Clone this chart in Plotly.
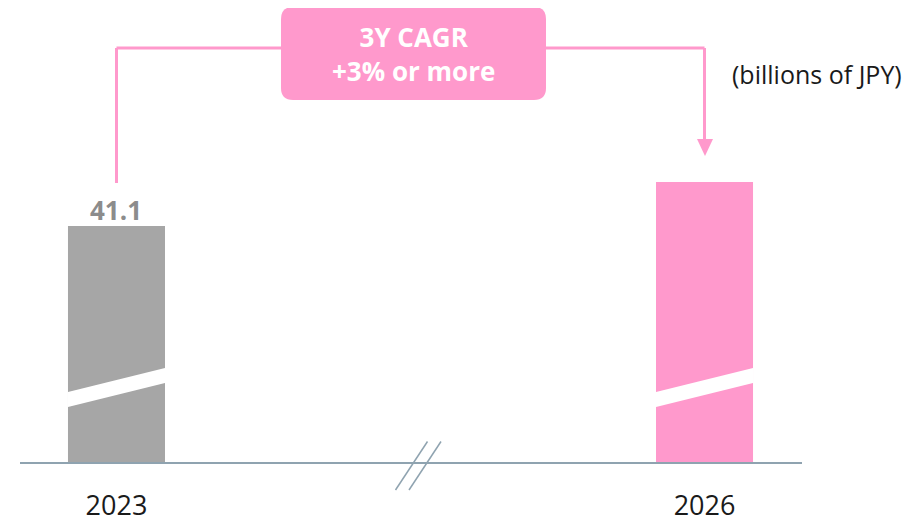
import plotly.graph_objects as go

# Data
years = ["2023", "2026"]
values = [41.1, 44.9]          # 2026 bar is unlabeled; height
labels = ["41.1", ""]
bar_colors = ["#a6a6a6", "#ff99cc"]
cagr_text = "3Y CAGR<br>+3% or more"
unit_text = "(billions of JPY)"

PINK = "#ff99cc"
AXIS = "#8fa3b0"
FONT = "Open Sans"

# Plot area in page pixels (page body has an 8px margin)
OFF = 8
L, R, T, B = 20, 802, 8, 462
W, H = 920 - OFF, 520 - OFF


def px(x):
    return (x - L) / (R - L)


def py(y):
    return (B - y) / (B - T)


x_idx = list(range(len(years)))

fig = go.Figure(
    go.Bar(
        x=x_idx,
        y=values,
        width=0.165,
        marker=dict(color=bar_colors, line=dict(width=0)),
        hoverinfo="skip",
    )
)

shapes = []

# white diagonal "cut" across each bar (axis break)
for i in x_idx:
    x0, x1 = i - 0.0825, i + 0.0825
    shapes.append(dict(
        type="path", xref="x", yref="paper",
        path=f"M {x0} {py(392)} L {x1} {py(368)} L {x1} {py(383)} L {x0} {py(407)} Z",
        fillcolor="white", line=dict(width=0),
    ))

# break marks on the x axis
for dx in (0, 13.5):
    shapes.append(dict(
        type="line", xref="paper", yref="paper",
        x0=px(427.5 + dx), y0=py(441.5), x1=px(395.5 + dx), y1=py(490),
        line=dict(color=AXIS, width=1.5),
    ))

# connector from 2023 to 2026
shapes += [
    dict(type="line", xref="x", yref="paper", x0=0, x1=0, y0=py(183), y1=py(48),
         line=dict(color=PINK, width=3)),
    dict(type="line", xref="x", yref="paper", x0=0, x1=1, y0=py(48), y1=py(48),
         line=dict(color=PINK, width=3)),
    dict(type="line", xref="x", yref="paper", x0=1, x1=1, y0=py(48), y1=py(141),
         line=dict(color=PINK, width=3)),
    dict(type="path", xref="paper", yref="paper",
         path=f"M {px(697)} {py(139)} L {px(713)} {py(139)} L {px(705)} {py(156)} Z",
         fillcolor=PINK, line=dict(width=0)),
]

# rounded box
bx0, bx1, by0, by1, r = 281, 546, 7, 100, 12
pts = (
    f"M {px(bx0 + r)} {py(by0)} L {px(bx1 - r)} {py(by0)} "
    f"Q {px(bx1)} {py(by0)} {px(bx1)} {py(by0 + r)} "
    f"L {px(bx1)} {py(by1 - r)} Q {px(bx1)} {py(by1)} {px(bx1 - r)} {py(by1)} "
    f"L {px(bx0 + r)} {py(by1)} Q {px(bx0)} {py(by1)} {px(bx0)} {py(by1 - r)} "
    f"L {px(bx0)} {py(by0 + r)} Q {px(bx0)} {py(by0)} {px(bx0 + r)} {py(by0)} Z"
)
shapes.append(dict(type="path", xref="paper", yref="paper", path=pts,
                   fillcolor=PINK, line=dict(width=0)))

annotations = [
    dict(text=cagr_text, xref="paper", yref="paper",
         x=px((bx0 + bx1) / 2), y=py(54), showarrow=False,
         xanchor="center", yanchor="middle", align="center",
         font=dict(family=FONT, size=26, color="white", weight="bold")),
    dict(text=unit_text, xref="paper", yref="paper", x=px(904), y=py(74),
         xanchor="right", yanchor="middle", showarrow=False,
         font=dict(family=FONT, size=25, color="#1a1a1a")),
]
# value labels above bars
for i, (v, lab) in enumerate(zip(values, labels)):
    if lab:
        annotations.append(dict(
            text=lab, x=i, y=v, xref="x", yref="y", showarrow=False,
            xanchor="center", yanchor="bottom", yshift=-4,
            font=dict(family=FONT, size=26, color="#8c8c8c", weight="bold"),
        ))

fig.update_layout(
    width=W,
    height=H,
    margin=dict(l=L - OFF, r=W - (R - OFF), t=T - OFF, b=H - (B - OFF)),
    plot_bgcolor="white",
    paper_bgcolor="white",
    showlegend=False,
    shapes=shapes,
    annotations=annotations,
    xaxis=dict(
        range=[-0.1641, 1.1658],
        tickvals=x_idx,
        ticktext=years,
        showline=True,
        linecolor=AXIS,
        linewidth=2,
        showgrid=False,
        zeroline=False,
        ticks="",
        automargin=False,
        ticklabelstandoff=19,
        tickfont=dict(family=FONT, size=27, color="#1a1a1a"),
    ),
    yaxis=dict(range=[20.72, 20.72 + (B - T) / 11.58], visible=False),
)

fig.write_html("out.html")
